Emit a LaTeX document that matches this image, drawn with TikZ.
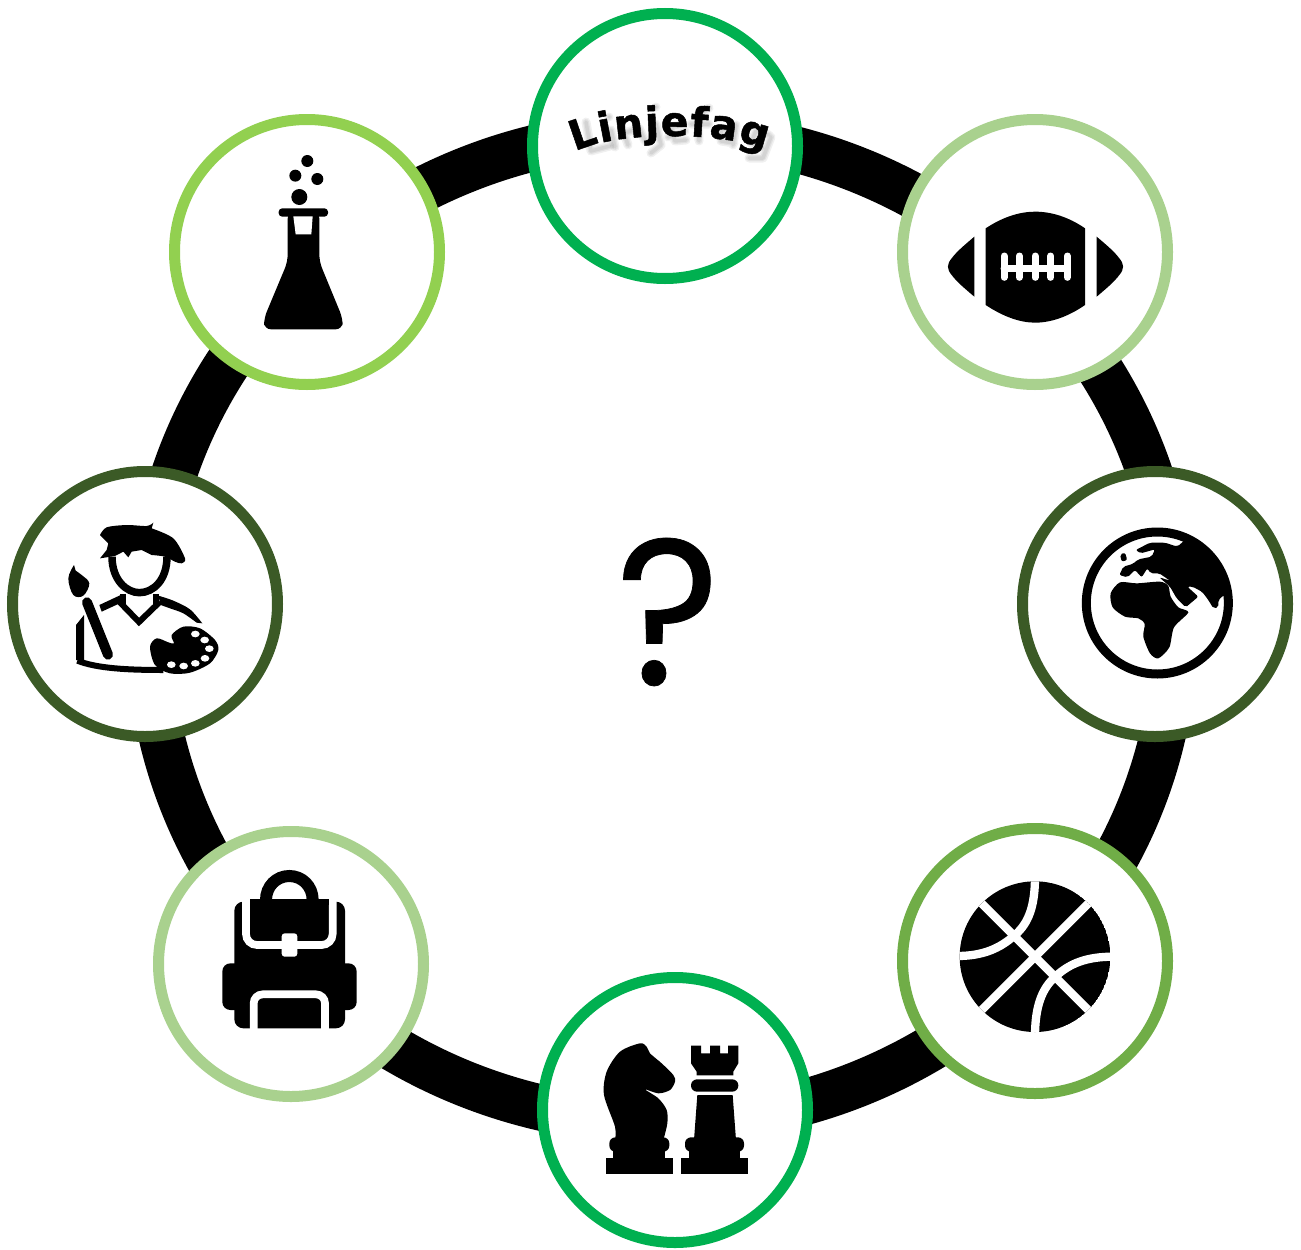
\documentclass[tikz,border=0pt]{standalone}
\usepackage{fontspec}
\setmainfont{DejaVu Sans}
\newfontfamily\labelfont[BoldFeatures={FakeBold=1.2}]{DejaVu Sans}
\newfontfamily\qfont[FakeBold=0.35,FakeStretch=0.95]{Poppins}
\usetikzlibrary{decorations.text}
\definecolor{cgreen}{HTML}{00B050}
\definecolor{clight}{HTML}{A9D18E}
\definecolor{cdark}{HTML}{3B5A26}
\definecolor{cmid}{HTML}{70AD47}
\definecolor{clime}{HTML}{92D050}
\tikzset{
  hub/.style={circle,draw=#1,fill=white,line width=11pt,minimum size=265pt,inner sep=0pt},
  zoomed/.style={shift={(#1)},x=0.33333pt,y=-0.33333pt},
  lace/.style={draw=white,line width=7pt,line cap=round},
  gap/.style={draw=white,line width=7.7pt},
  halo/.style={draw=black,line cap=round,line join=round,opacity=.06,line width=#1},
}
\newcommand{\letterhalo}[1]{%
  \begin{scope}[shift={(1,-5)}]
  \draw[halo=#1] (585,127) -- (590,156) -- (609,151);
  \draw[halo=#1] (608,122) -- (608,122) (610,135) -- (614,152);
  \draw[halo=#1] (622,135) -- (627,150) (624,138) -- (638,133) -- (644,146);
  \draw[halo=#1] (655,112) -- (655,112) (655,129) -- (660,150) -- (650,158);
  \draw[halo=#1] (667,142) -- (684,136) (680,130) -- (670,132) -- (674,146) -- (685,145);
  \draw[halo=#1] (708,113) -- (697,120) -- (698,146) (690,129) -- (708,129);
  \draw[halo=#1] (733,136) -- (720,134) -- (720,146) -- (733,148) (735,130) -- (732,150);
  \draw[halo=#1] (768,140) -- (755,136) -- (750,148) -- (762,153) (770,142) -- (762,163) -- (748,163);
  \end{scope}
}
\begin{document}
\begin{tikzpicture}[x=1pt,y=-1pt]
\useasboundingbox (0,0) rectangle (1301,1250);
% ring
\draw[line width=46pt,black] (662,627) ellipse [x radius=513pt,y radius=494.5pt];
% hubs
\node[hub=cgreen] (top) at (665,146) {};
\node[hub=clight] (football) at (1035,252) {};
\node[hub=cdark] (globe) at (1155,604) {};
\node[hub=cmid] (basket) at (1035,961) {};
\node[hub=cgreen] (chess) at (675,1110) {};
\node[hub=clight] (pack) at (291,964) {};
\node[hub=cdark] (painter) at (145,604) {};
\node[hub=clime] (flask) at (307,252) {};
% question mark
\node[font=\qfont\fontsize{208}{208}\selectfont,inner sep=0pt] (q) at (668,612) {?};
% curved label shadow
\letterhalo{9pt}
\letterhalo{6pt}
\letterhalo{3.5pt}
% curved label
\path[decorate,decoration={text along path,text align={fit to path},
    text={|\labelfont\bfseries\fontsize{41}{41}\selectfont|Linjefag}}]
    (575,152) .. controls (610,132) and (720,130) .. (765,150);
% flask
\begin{scope}[zoomed={240,145}]
\fill (202,48) circle [radius=18] (166,92) circle [radius=18] (232,102) circle [radius=18] (178,156) circle [radius=24];
\fill[rounded corners=3.5pt] (116,190) -- (264,190) -- (264,215) -- (116,215) -- cycle;
\fill[rounded corners=7pt] (143,200) -- (238,200) -- (238,350) -- (308,520) -- (308,553) -- (72,553) -- (72,520) -- (143,350) -- cycle;
\fill[white] (160,214) -- (218,214) -- (214,268) -- (167,268) -- cycle;
\end{scope}
% football
\begin{scope}[zoomed={940,200}]
\fill (137,85) .. controls (190,50) and (240,35) .. (286,35) .. controls (332,35) and (385,50) .. (435,85) -- (435,315) .. controls (385,350) and (332,368) .. (286,368) .. controls (240,368) and (190,350) .. (137,315) -- cycle;
\fill (103,110) -- (103,290) .. controls (70,262) and (50,245) .. (35,225) .. controls (20,207) and (20,193) .. (35,175) .. controls (50,155) and (70,138) .. (103,110) -- cycle;
\fill (470,110) -- (470,290) .. controls (503,262) and (523,245) .. (538,225) .. controls (553,207) and (553,193) .. (538,175) .. controls (523,155) and (503,138) .. (470,110) -- cycle;
\draw[lace] (192,205) -- (382,205);
\foreach \lx in {192,238,285,332,382} \draw[lace] (\lx,168) -- (\lx,232);
\end{scope}
% globe
\begin{scope}[zoomed={1070,520}]
\draw[line width=9pt] (262,249) circle [radius=213];
\begin{scope}
\clip (262,249) circle [radius=215];
\fill[rounded corners=2pt] (345,60) -- (322,80) -- (285,68) -- (240,68) -- (197,90) -- (212,100) -- (255,88) -- (245,110) -- (205,118) -- (188,132) -- (160,140) -- (148,165) -- (172,172) -- (195,150) -- (215,172) -- (232,145) -- (242,160) -- (268,160) -- (300,182) -- (268,172) -- (300,200) -- (320,235) -- (347,262) -- (385,230) -- (352,200) -- (368,200) -- (397,216) -- (415,240) -- (430,265) -- (445,262) -- (445,240) -- (462,225) -- (520,225) -- (520,20) -- (345,20) -- cycle;
\end{scope}
\fill[rounded corners=2pt] (150,103) -- (165,98) -- (172,120) -- (155,125) -- cycle;
\fill plot[smooth cycle,tension=.45] coordinates {(150,187) (122,220) (128,262) (165,290) (205,295) (224,312) (220,350) (240,400) (265,415) (298,382) (312,322) (355,277) (325,262) (302,230) (295,198) (270,185) (200,190)};
\end{scope}
% basketball
\begin{scope}[zoomed={950,870}]
\begin{scope}
\clip (255,260) circle [radius=226];
\fill (255,260) circle [radius=226];
\begin{scope}[gap/.append style={line width=8.3pt}]
\draw[gap] (90,95) -- (420,425);
\draw[gap] (420,95) -- (90,425);
\draw[gap] (255,20) .. controls (255,110) and (235,160) .. (195,195) .. controls (150,235) and (100,258) .. (20,258);
\draw[gap] (255,500) .. controls (255,410) and (275,355) .. (318,318) .. controls (360,280) and (410,260) .. (490,260);
\end{scope}
\end{scope}
\end{scope}
% backpack
\begin{scope}[zoomed={200,850}]
\fill[rounded corners=9pt] (103,155) -- (435,155) -- (435,535) -- (103,535) -- cycle;
\fill[rounded corners=8pt] (67,340) -- (470,340) -- (470,480) -- (67,480) -- cycle;
\draw[line width=12pt] (198,150) .. controls (198,109) and (229,78) .. (268,78) .. controls (307,78) and (338,109) .. (338,150);
\draw[gap,rounded corners=11pt] (138,140) -- (138,285) -- (398,285) -- (398,140);
\fill (150,148) rectangle (386,165);
\fill[white,rounded corners=3pt] (245,250) rectangle (292,320);
\draw[gap,rounded corners=9pt] (161,548) -- (161,433) -- (375,433) -- (375,548);
\end{scope}
% chess
\begin{scope}[zoomed={590,1030}]
\fill (47,385) rectangle (248,433);
\fill (70,360) rectangle (225,390);
\fill[rounded corners=6pt] (58,322) rectangle (238,365);
\fill plot[smooth,tension=.5] coordinates {(75,330) (75,290) (42,195) (50,125) (90,65) (150,40) (170,50) (180,70) (215,100) (250,135) (255,155) (240,180) (205,190) (165,178) (205,205) (230,240) (232,280) (220,330)} -- cycle;
\fill (273,385) rectangle (475,433);
\fill (297,360) rectangle (450,390);
\fill[rounded corners=6pt] (285,322) rectangle (462,365);
\fill (322,195) -- (428,195) -- (438,330) -- (312,330) -- cycle;
\fill[rounded corners=6pt] (303,148) rectangle (445,185);
\fill (303,47) -- (333,47) -- (333,70) -- (360,70) -- (360,47) -- (390,47) -- (390,70) -- (414,70) -- (414,47) -- (445,47) -- (445,100) -- (430,125) -- (430,136) -- (320,136) -- (320,125) -- (303,100) -- cycle;
\end{scope}
% painter
\begin{scope}[zoomed={40,500}]
\draw[line width=7.5pt] (216,170) .. controls (216,240) and (260,278) .. (298,278) .. controls (340,278) and (381,240) .. (381,170);
\fill plot[smooth,tension=.5] coordinates {(180,105) (200,82) (260,75) (320,78) (340,68)} -- (335,85) -- plot[smooth,tension=.5] coordinates {(335,85) (400,115) (435,175) (425,190) (405,185) (375,170) (335,165)} -- (305,150) -- (275,155) -- (265,172) -- (250,155) -- (225,168) -- (180,175) -- (200,150) -- (205,130) -- cycle;
\draw[line width=6pt] (250,283) -- (250,312);
\draw[line width=6pt] (348,283) -- (348,312);
\draw[line width=6pt] (238,305) -- (297,366) -- (360,305);
\fill (178,315) -- (240,286) -- (250,305) -- (185,335) -- cycle;
\fill plot[smooth,tension=.5] coordinates {(355,287) (400,302) (450,328) (487,370)} -- (470,368) -- plot[smooth,tension=.5] coordinates {(470,368) (430,340) (390,325) (362,315)} -- cycle;
\draw[line width=10pt,line cap=round] (141,307) -- (204,464);
\fill plot[smooth,tension=.6] coordinates {(102,195) (85,235) (100,285) (130,287) (148,250) (125,225) (107,212)} -- cycle;
\fill (132,345) -- (132,480) -- (108,480) -- (108,375) -- cycle;
\draw[line width=6pt] (112,482) .. controls (170,505) and (260,510) .. (370,510);
\fill plot[smooth cycle,tension=.5] coordinates {(330,440) (350,415) (385,427) (402,430) (395,405) (430,380) (480,385) (525,420) (535,450) (510,490) (450,518) (390,520) (345,495)};
\fill[white] (466,402) ellipse [x radius=13,y radius=10] (494,420) ellipse [x radius=13,y radius=10] (508,446) ellipse [x radius=13,y radius=10] (495,475) ellipse [x radius=13,y radius=10] (466,490) ellipse [x radius=13,y radius=10] (431,498) ellipse [x radius=13,y radius=10] (394,494) ellipse [x radius=13,y radius=10];
\end{scope}
\end{tikzpicture}
\end{document}
